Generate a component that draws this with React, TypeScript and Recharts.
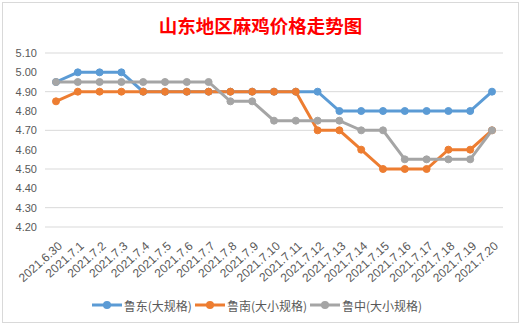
import { LineChart, Line, XAxis, YAxis, CartesianGrid, Legend } from "recharts";

const dates = [
  "2021.6.30", "2021.7.1", "2021.7.2", "2021.7.3", "2021.7.4", "2021.7.5", "2021.7.6",
  "2021.7.7", "2021.7.8", "2021.7.9", "2021.7.10", "2021.7.11", "2021.7.12", "2021.7.13",
  "2021.7.14", "2021.7.15", "2021.7.16", "2021.7.17", "2021.7.18", "2021.7.19", "2021.7.20",
];
const ludong = [4.95, 5.0, 5.0, 5.0, 4.9, 4.9, 4.9, 4.9, 4.9, 4.9, 4.9, 4.9, 4.9, 4.8, 4.8, 4.8, 4.8, 4.8, 4.8, 4.8, 4.9];
const lunan = [4.85, 4.9, 4.9, 4.9, 4.9, 4.9, 4.9, 4.9, 4.9, 4.9, 4.9, 4.9, 4.7, 4.7, 4.6, 4.5, 4.5, 4.5, 4.6, 4.6, 4.7];
const luzhong = [4.95, 4.95, 4.95, 4.95, 4.95, 4.95, 4.95, 4.95, 4.85, 4.85, 4.75, 4.75, 4.75, 4.75, 4.7, 4.7, 4.55, 4.55, 4.55, 4.55, 4.7];
const yTicks = [4.2, 4.3, 4.4, 4.5, 4.6, 4.7, 4.8, 4.9, 5.0, 5.1];

const series = [
  { key: "ludong", name: "鲁东(大规格)", color: "#5B9BD5" },
  { key: "lunan", name: "鲁南(大小规格)", color: "#ED7D31" },
  { key: "luzhong", name: "鲁中(大小规格)", color: "#A5A5A5" },
];

const data = dates.map((d, i) => ({
  date: d,
  ludong: ludong[i],
  lunan: lunan[i],
  luzhong: luzhong[i],
}));

const numFont = "'Liberation Sans', Arial, sans-serif";
const cjkFont = "'Noto Sans CJK SC', sans-serif";

const DateTick = ({ x, y, payload }: any) => (
  <text
    x={0}
    y={0}
    transform={`translate(${x + 7},${y + 12}) rotate(-42)`}
    textAnchor="end"
    fontSize={12}
    fill="#595959"
    fontFamily={numFont}
  >
    {payload.value}
  </text>
);

const LegendBox = () => (
  <div style={{ display: "flex", justifyContent: "center", alignItems: "center", height: 20, paddingLeft: 14 }}>
    {series.map((s) => (
      <div key={s.key} style={{ display: "flex", alignItems: "center", marginRight: 3 }}>
        <svg width={30} height={10} style={{ marginRight: 2 }}>
          <line x1={0} y1={5} x2={30} y2={5} stroke={s.color} strokeWidth={3} />
          <circle cx={15} cy={5} r={4} fill={s.color} />
        </svg>
        <span style={{ fontSize: 12, color: "#595959", fontFamily: cjkFont }}>{s.name}</span>
      </div>
    ))}
  </div>
);

export default function App() {
  return (
    <div style={{ position: "fixed", left: 0, top: 0, width: 521, height: 325, background: "#fff" }}>
      <div
        style={{
          position: "absolute",
          left: 2,
          top: 2,
          width: 515,
          height: 319,
          border: "1px solid #d9d9d9",
        }}
      />
      <div
        style={{
          position: "absolute",
          left: 0,
          top: 12,
          width: 521,
          textAlign: "center",
          color: "#FF0000",
          fontSize: 18.5,
          fontWeight: 700,
          fontFamily: cjkFont,
          lineHeight: "26px",
        }}
      >
        山东地区麻鸡价格走势图
      </div>
      <div style={{ position: "absolute", left: 0, top: 0 }}>
        <LineChart width={521} height={325} data={data} margin={{ top: 53, right: 18, bottom: 10, left: 0 }}>
          <CartesianGrid vertical={false} stroke="#d9d9d9" />
          <XAxis
            dataKey="date"
            interval={0}
            height={68}
            padding={{ left: 11, right: 11 }}
            tick={<DateTick />}
            axisLine={false}
            tickLine={false}
          />
          <YAxis
            domain={[4.2, 5.1]}
            ticks={yTicks}
            width={45}
            axisLine={false}
            tickLine={false}
            tick={{ fontSize: 11, fill: "#595959", fontFamily: numFont }}
            tickFormatter={(v: number) => v.toFixed(2)}
          />
          <Legend verticalAlign="bottom" content={<LegendBox />} />
          {series.map((s) => (
            <Line
              key={s.key}
              type="linear"
              dataKey={s.key}
              name={s.name}
              stroke={s.color}
              strokeWidth={3}
              dot={{ r: 3.5, fill: s.color, stroke: s.color, strokeWidth: 1 }}
              isAnimationActive={false}
            />
          ))}
        </LineChart>
      </div>
    </div>
  );
}
